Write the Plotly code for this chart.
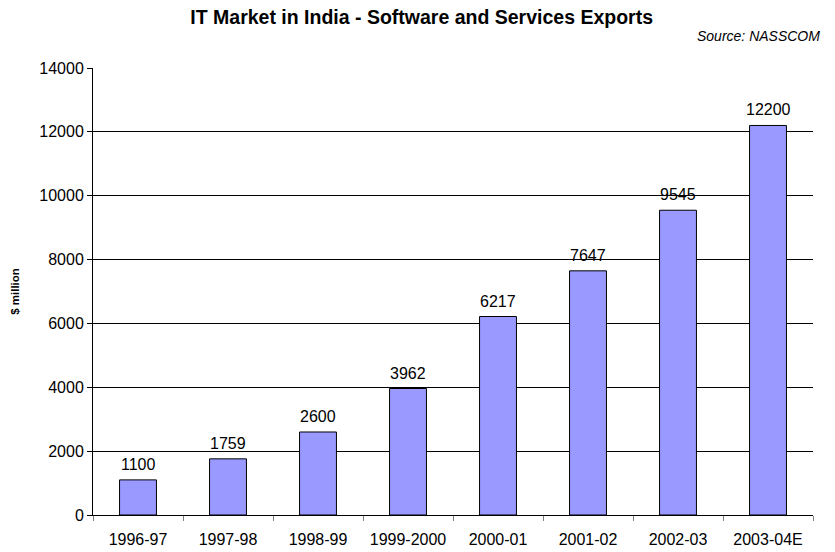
import plotly.graph_objects as go

# Data
years = ["1996-97", "1997-98", "1998-99", "1999-2000", "2000-01", "2001-02", "2002-03", "2003-04E"]
exports = [1100, 1759, 2600, 3962, 6217, 7647, 9545, 12200]
y_ticks = [0, 2000, 4000, 6000, 8000, 10000, 12000, 14000]

FONT = "Liberation Sans, Arial, sans-serif"

fig = go.Figure()

fig.add_trace(
    go.Bar(
        x=years,
        y=exports,
        width=0.41,
        marker=dict(color="#9999FF", line=dict(color="black", width=1)),
        hoverinfo="x+y",
    )
)

# Value labels above bars
for yr, val in zip(years, exports):
    fig.add_annotation(
        x=yr, y=val, text=str(val), showarrow=False,
        yanchor="bottom", yshift=5,
        font=dict(family=FONT, size=16, color="black"),
    )

fig.update_layout(
    width=835,
    height=552,
    paper_bgcolor="white",
    plot_bgcolor="white",
    showlegend=False,
    font=dict(family=FONT, size=16, color="black"),
    margin=dict(l=93, r=22, t=68, b=37, autoexpand=False),
    title=dict(
        text="<b>IT Market in India - Software and Services Exports</b>",
        x=0.505, xanchor="center", xref="container",
        y=1 - 17 / 552, yanchor="middle",
        font=dict(family=FONT, size=19.5, color="black"),
    ),
    xaxis=dict(
        type="category",
        automargin=False,
        tickson="boundaries",
        ticks="outside",
        ticklen=5,
        tickcolor="#808080",
        ticklabelstandoff=10,
        showline=True,
        linecolor="black",
        linewidth=1,
        showgrid=False,
        tickfont=dict(family=FONT, size=16),
    ),
    yaxis=dict(
        range=[0, 14000],
        automargin=False,
        tickvals=y_ticks,
        ticktext=[str(v) for v in y_ticks],
        ticks="outside",
        ticklen=5,
        tickcolor="black",
        showline=True,
        linecolor="black",
        linewidth=1,
        showgrid=True,
        gridcolor="black",
        gridwidth=1,
        zeroline=False,
        tickfont=dict(family=FONT, size=16),
        title=dict(text="<b>$ million</b>", font=dict(family=FONT, size=11.5), standoff=17),
    ),
)

fig.add_annotation(
    text="<i>Source: NASSCOM</i>",
    xref="paper", yref="paper",
    x=1.012, y=1 + (68 - 36) / (552 - 68 - 37),
    xanchor="right", yanchor="middle",
    showarrow=False,
    font=dict(family=FONT, size=14, color="black"),
)

fig.write_html(
    "out.html",
    config={"displayModeBar": False},
    post_script="document.body.style.margin='0';",
)
